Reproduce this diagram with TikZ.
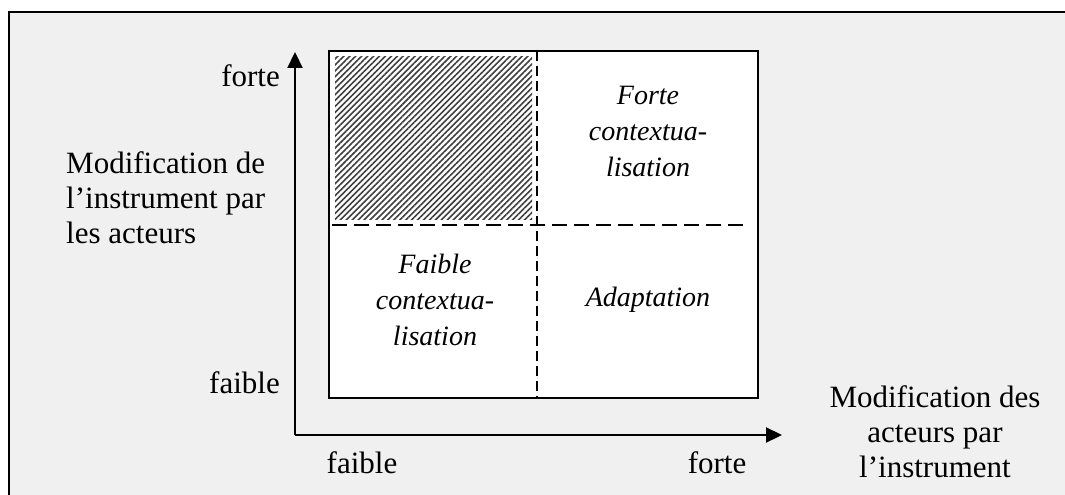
\documentclass[tikz,border=0pt]{standalone}
\usepackage{fontspec}
\setmainfont{Liberation Serif}
\usetikzlibrary{arrows.meta,patterns.meta}
\definecolor{panelgray}{RGB}{240,240,240}
\begin{document}
\begin{tikzpicture}[x=1pt,y=-1pt,
  lbl/.style={font=\fontsize{31}{35}\selectfont, inner sep=0pt, align=center},
  lblL/.style={font=\fontsize{31}{35}\selectfont, inner sep=0pt, align=left},
  ital/.style={font=\fontsize{28}{36}\selectfont\itshape, inner sep=0pt, align=center},
  axis/.style={line width=2.2pt, -{Triangle[length=16pt,width=15pt]}},
  divider/.style={line width=2pt, dash pattern=on 15pt off 7pt},
  vdivider/.style={line width=2pt, dash pattern=on 10pt off 5pt}]
\useasboundingbox (0,0) rectangle (1065,495);
\fill[white] (0,0) rectangle (1065,495);
\clip (0,0) rectangle (1065,495);
% outer panel
\draw[line width=2.5pt, fill=panelgray] (9,12) rectangle (1090,520);
% main box
\node[draw, line width=2.2pt, fill=white, minimum width=429pt, minimum height=347pt, inner sep=0pt] (box) at (543.5,224.5) {};
% hatched quadrant
\fill[pattern={Lines[angle=45,distance=4.2pt,line width=1.6pt]}, pattern color=black!75] (335,57) rectangle (532,219);
% dividers
\coordinate (vtop) at (537,51);
\coordinate (vbot) at (537,398);
\coordinate (hleft) at (332,225);
\coordinate (hright) at (745,225);
\draw[vdivider] (vtop) -- (vbot);
\draw[divider] (hleft) -- (hright);
% axes
\coordinate (O) at (295,435);
\coordinate (ytip) at (295,52);
\coordinate (xtip) at (782,435);
\draw[axis] (O) -- (ytip);
\draw[axis] (O) -- (xtip);
% quadrant labels
\node[ital] (fortec) at (648,131) {Forte\\contextua-\\lisation};
\node[ital] (faiblec) at (435,300) {Faible\\contextua-\\lisation};
\node[ital] (adapt) at (648,300) {Adaptation};
% axis labels
\node[lbl, anchor=east] (yhigh) at (280,76) {forte};
\node[lbl, anchor=east] (ylow) at (280,383) {faible};
\node[lblL, anchor=west] (ytitle) at (66,198) {Modification de\\l’instrument par\\les acteurs};
\node[lbl] (xlow) at (362,463) {faible};
\node[lbl] (xhigh) at (717,463) {forte};
\node[lbl] (xtitle) at (935,432) {Modification des\\acteurs par\\l’instrument};
\end{tikzpicture}
\end{document}
